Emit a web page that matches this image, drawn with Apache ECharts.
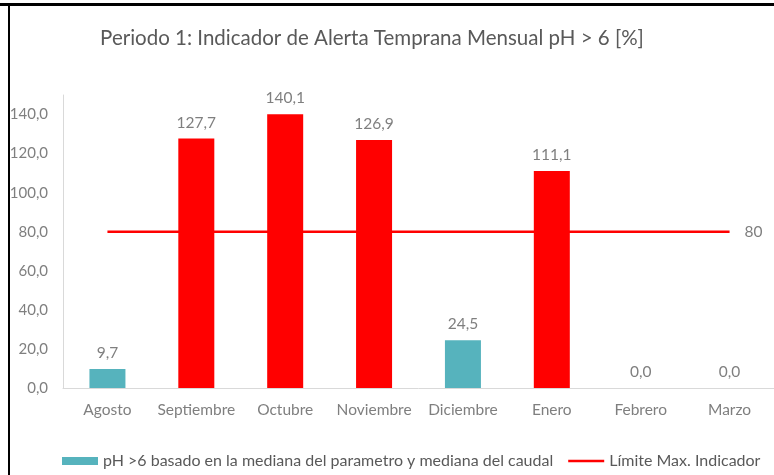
<!DOCTYPE html>
<html>
<head>
<meta charset="utf-8">
<script src="https://cdn.jsdelivr.net/npm/echarts@6/dist/echarts.min.js"></script>
<style>
  html, body { margin: 0; padding: 0; background: #fff; }
  #chart { width: 774px; height: 475px; }
</style>
</head>
<body>
<div id="chart"></div>
<script>
const categories = ['Agosto', 'Septiembre', 'Octubre', 'Noviembre', 'Diciembre', 'Enero', 'Febrero', 'Marzo']
const indicatorValues = [9.7, 127.7, 140.1, 126.9, 24.5, 111.1, 0.0, 0.0]
const limitValues = [80, 80, 80, 80, 80, 80, 80, 80]
const barName = 'pH >6 basado en la mediana del parametro y mediana del caudal'
const lineName = 'Límite Max. Indicador'

const TEAL = '#56B3BD'
const RED = '#FF0000'
const TEXT = '#7F7F7F'
const FONT = 'Lato, "Open Sans", sans-serif'

const fmt = v => Number(v).toFixed(1).replace('.', ',')

const chart = echarts.init(document.getElementById('chart'))

const option = {
  animation: false,
  backgroundColor: '#fff',
  textStyle: { fontFamily: FONT },
  title: {
    text: 'Periodo 1: Indicador de Alerta Temprana Mensual pH > 6 [%]',
    left: 367,
    textAlign: 'center',
    top: 23,
    textStyle: { color: '#595959', fontSize: 20.5, fontWeight: 'normal', fontFamily: FONT }
  },
  legend: {
    left: 62,
    top: 453,
    padding: 0,
    itemWidth: 36,
    itemHeight: 8,
    itemGap: 15,
    textStyle: { color: '#595959', fontSize: 16, fontFamily: FONT },
    data: [
      { name: barName, icon: 'rect' },
      { name: lineName, icon: 'path://M0,0H40V3H0Z' }
    ]
  },
  grid: { left: 63, right: -9, top: 95, bottom: 87 },
  xAxis: {
    type: 'category',
    data: categories,
    axisLine: { lineStyle: { color: '#D9D9D9', width: 1 } },
    axisTick: { show: false },
    axisLabel: { color: TEXT, fontSize: 15.5, margin: 14, interval: 0, fontFamily: FONT }
  },
  yAxis: {
    type: 'value',
    min: 0,
    max: 150,
    interval: 20,
    axisLine: { show: true, lineStyle: { color: '#D9D9D9' } },
    axisTick: { show: false },
    splitLine: { show: false },
    axisLabel: { color: TEXT, fontSize: 15, margin: 15, showMaxLabel: false, formatter: fmt, fontFamily: FONT }
  },
  series: [
    {
      name: barName,
      type: 'bar',
      barWidth: 36,
      itemStyle: { color: TEAL },
      label: {
        show: true,
        position: 'top',
        distance: 8,
        color: TEXT,
        fontSize: 15.5,
        fontFamily: FONT,
        formatter: p => fmt(p.value)
      },
      data: indicatorValues.map(v => (v > limitValues[0] ? { value: v, itemStyle: { color: RED } } : v))
    },
    {
      name: lineName,
      type: 'line',
      data: limitValues,
      symbol: 'none',
      lineStyle: { color: RED, width: 2.5 },
      itemStyle: { color: RED },
      endLabel: {
        show: true,
        color: TEXT,
        fontSize: 15.5,
        distance: 15,
        fontFamily: FONT,
        formatter: p => String(p.value)
      }
    }
  ],
  graphic: [
    { type: 'rect', shape: { x: 0, y: 3, width: 774, height: 3 }, style: { fill: '#000' } },
    { type: 'rect', shape: { x: 8, y: 3, width: 2, height: 472 }, style: { fill: '#000' } }
  ]
}

chart.setOption(option)
</script>
</body>
</html>
